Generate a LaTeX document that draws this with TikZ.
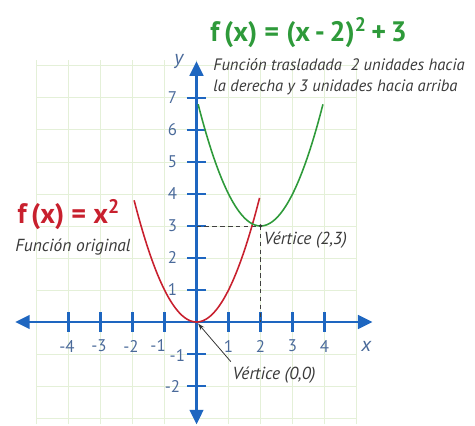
\documentclass[tikz,border=0pt]{standalone}
\usepackage{fontspec}
\setmainfont{PT Sans}
\usetikzlibrary{arrows.meta}
\definecolor{axisblue}{HTML}{1E66C0}
\definecolor{numblue}{HTML}{4A6A9A}
\definecolor{redc}{HTML}{C8202E}
\definecolor{greenc}{HTML}{2E9A3A}
\definecolor{gridc}{HTML}{E4F0D8}
\definecolor{txtgray}{HTML}{3A3A3A}
\tikzset{
  axis/.style={axisblue, line width=2.6pt, {Triangle[length=13pt,width=12pt]}-{Triangle[length=13pt,width=12pt]}},
  tickmark/.style={axisblue, line width=2pt},
  num/.style={numblue, font=\fontsize{15}{15}\selectfont, inner sep=0pt},
  note/.style={txtgray, font=\fontsize{15.5}{18}\selectfont\itshape, inner sep=0pt, align=left},
  topnote/.style={note, font=\fontsize{14.7}{18}\selectfont\itshape},
  curve/.style={line width=1.4pt},
  title/.style={font=\fontsize{25}{25}\selectfont\bfseries, inner sep=0pt},
  guide/.style={black!75, line width=0.6pt, dash pattern=on 4pt off 3pt},
}
\begin{document}
\begin{tikzpicture}[x=1cm,y=1cm]
\useasboundingbox (-6.14,-3.22) rectangle (8.70,10.06);
% grid
\draw[gridc, line width=0.8pt] (-5,-3.2) grid (5,8.2);
% axes
\draw[axis] (-5.67,0) -- (5.5,0);
\draw[axis] (0,-3.2) -- (0,8.15);
% ticks
\foreach \x in {-4,-3,-2,-1,1,2,3,4} \draw[tickmark] (\x,-0.3) -- (\x,0.3);
\foreach \y in {-2,-1,1,2,3,4,5,6,7} \draw[tickmark] (-0.3,\y) -- (0.3,\y);
% tick labels
\foreach \x in {-4,-3,-2} \node[num] (xl\x) at (\x-0.05,-0.75) {\x};
\node[num] (xlm1) at (-1.2,-0.72) {-1};
\foreach \x in {1,2,3,4} \node[num] (xl\x) at (\x,-0.75) {\x};
\foreach \y in {1,...,7} \node[num] (yl\y) at (-0.75,\y) {\y};
\node[num] (ylm1) at (-0.6,-1.05) {-1};
\node[num] (ylm2) at (-0.75,-2) {-2};
\node[numblue, font=\fontsize{18}{18}\selectfont\itshape, inner sep=0pt] (ylab) at (-0.55,8.15) {y};
\node[numblue, font=\fontsize{18}{18}\selectfont\itshape, inner sep=0pt] (xlab) at (5.3,-0.75) {x};
% guides
\coordinate (v2) at (2,3);
\coordinate (y3) at (0,3);
\coordinate (x2) at (2,0);
\draw[guide] (y3) -- (v2);
\draw[guide] (v2) -- (x2);
% curves
\draw[redc, curve, domain=-1.95:1.97, samples=80] plot (\x,{\x*\x});
\draw[greenc, curve, domain=0.05:3.95, samples=80] plot (\x,{(\x-2)*(\x-2)+3});
\fill[black!80] (v2) circle (1.6pt);
% labels
\node[greenc, title] (tg) at (3.5,9.05) {f\,(x) = (x\,-\,2)$^{\mathbf 2}$\,+\,3};
\node[topnote, anchor=west] (ng) at (0.52,8.05) {Función trasladada\ \ 2 unidades hacia};
\node[topnote, anchor=west] (ng2) at (0.52,7.33) {la derecha y 3 unidades hacia arriba};
\node[redc, title, anchor=west] (tr) at (-5.6,3.35) {f\,(x) = x$^{\mathbf 2}$};
\node[note, anchor=west] (nr) at (-5.67,2.35) {Función original};
\node[note, anchor=west] (v23) at (2.1,2.55) {Vértice (2,3)};
\node[note, anchor=west] (v00) at (1.12,-1.65) {Vértice (0,0)};
\coordinate (o) at (0.05,-0.05);
\draw[black!80, line width=0.7pt, -{Stealth[length=6pt,width=4pt]}] (v00.north west) ++(-0.05,0.15) -- (o);
\end{tikzpicture}
\end{document}
